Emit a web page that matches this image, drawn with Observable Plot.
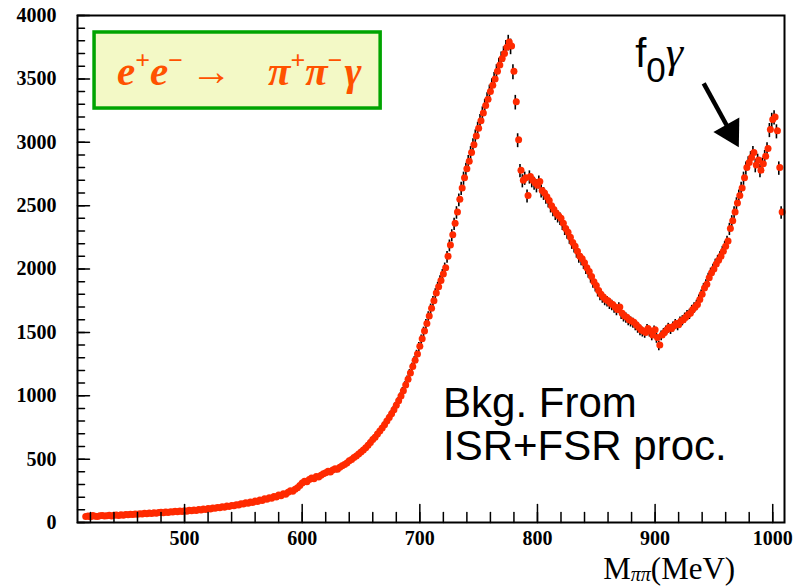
<!DOCTYPE html>
<html>
<head>
<meta charset="utf-8">
<script src="https://cdn.jsdelivr.net/npm/d3@7"></script>
<script src="https://cdn.jsdelivr.net/npm/@observablehq/plot@0.6"></script>
<style>
  html, body { margin: 0; padding: 0; background: #fff; }
  #chart svg { display: block; }
</style>
</head>
<body>
<div id="chart"></div>
<script>
// ---- data ----
const masses = d3.range(416, 1009, 2); // bin centres, MeV
const counts = [
  48, 52, 45, 55, 50, 47, 53, 56, 51, 54,
  57, 52, 58, 60, 55, 62, 58, 64, 61, 66,
  63, 68, 65, 70, 67, 72, 69, 74, 71, 76,
  73, 78, 80, 76, 82, 79, 85, 82, 88, 84,
  90, 87, 93, 89, 96, 92, 99, 95, 102, 98,
  106, 103, 110, 107, 115, 112, 119, 116, 124, 121,
  130, 126, 135, 132, 141, 138, 148, 145, 155, 151,
  162, 158, 170, 166, 178, 174, 187, 183, 196, 192,
  206, 201, 216, 212, 227, 222, 238, 250, 246, 262,
  275, 292, 312, 326, 322, 340, 352, 346, 362, 358,
  372, 385, 392, 404, 398, 415, 425, 420, 436, 448,
  458, 470, 488, 498, 512, 525, 540, 556, 572, 590,
  610, 632, 655, 672, 698, 722, 745, 772, 800, 828,
  858, 890, 925, 960, 998, 1040, 1085, 1130, 1180, 1230,
  1280, 1330, 1390, 1450, 1510, 1570, 1630, 1690, 1750, 1810,
  1860, 1910, 1960, 2010, 2100, 2190, 2270, 2360, 2450, 2550,
  2640, 2720, 2790, 2850, 2920, 2980, 3050, 3110, 3170, 3230,
  3290, 3340, 3400, 3450, 3500, 3560, 3610, 3660, 3700, 3750,
  3790, 3760, 3560, 3320, 3020, 2780, 2700, 2720, 2580, 2730,
  2700, 2680, 2660, 2690, 2620, 2600, 2570, 2540, 2500, 2470,
  2440, 2420, 2400, 2360, 2320, 2290, 2250, 2210, 2180, 2140,
  2100, 2080, 2050, 2010, 1980, 1940, 1900, 1870, 1830, 1800,
  1780, 1760, 1750, 1730, 1720, 1700, 1680, 1700, 1650, 1630,
  1620, 1600, 1590, 1580, 1560, 1540, 1520, 1510, 1500, 1530,
  1510, 1480, 1520, 1460, 1400, 1480, 1500, 1520, 1540, 1530,
  1550, 1570, 1560, 1590, 1600, 1620, 1640, 1650, 1680, 1700,
  1720, 1760, 1800, 1850, 1880, 1930, 1970, 2000, 2040, 2070,
  2100, 2140, 2180, 2220, 2320, 2380, 2450, 2520, 2580, 2640,
  2720, 2800, 2840, 2880, 2920, 2820, 2860, 2780, 2830, 2890,
  2950, 3100, 3180, 3200, 3090, 2800, 2450
];
const xTicks = [500, 600, 700, 800, 900, 1000];
const xMinor = d3.range(420, 1010, 20);
const yTicks = [0, 500, 1000, 1500, 2000, 2500, 3000, 3500, 4000];
const yMinor = d3.range(0, 4001, 100);
const xDomain = [409, 1010];
const yDomain = [0, 4000];

// annotations (data units)
const legendBox = [{x1: 423.5, x2: 666.7, y1: 3266, y2: 3866}];
const arrowShaft = [{x1: 941.3, y1: 3464, x2: 964.1, y2: 3079}];
const arrowHead = [{x: 964.1, y: 3079}];
const legendPos = {x: 443, y: 3448};
const f0Pos = {x: 883.5, y: 3590};
const bkgPos = {x: 720.2, y1: 828, y2: 489};
const titlePos = {x: 856.3, y: -449.7};

const data = masses.map((m, i) => ({m, c: counts[i]}));

const tickShape = {draw(ctx, l) { ctx.moveTo(0, 0); ctx.lineTo(0, -l); }};
const serif = "'Liberation Serif', 'Times New Roman', serif";
const sans = "'Liberation Sans', Arial, sans-serif";

const chart = Plot.plot({
  width: 794,
  height: 586,
  marginLeft: 77,
  marginRight: 10,
  marginTop: 15,
  marginBottom: 64,
  style: {background: "white", overflow: "visible"},
  x: {domain: xDomain},
  y: {domain: yDomain},
  marks: [
    Plot.rect(legendBox, {x1: "x1", x2: "x2", y1: "y1", y2: "y2", fill: "#f3f9c6", stroke: "#00a400", strokeWidth: 3.5}),
    Plot.ruleX(data, {x: "m", y1: d => d.c - Math.sqrt(d.c), y2: d => d.c + Math.sqrt(d.c), stroke: "black", strokeWidth: 1.6, dx: -1, dy: 1}),
    Plot.dot(data, {x: "m", y: "c", r: 3.5, fill: "#ff2a00", stroke: "none"}),
    Plot.link(arrowShaft, {x1: "x1", y1: "y1", x2: "x2", y2: "y2", stroke: "black", strokeWidth: 4.5}),
    Plot.dot(arrowHead, {x: "x", y: "y", symbol: "triangle", r: 11, rotate: 151, fill: "black"}),
    Plot.vector(xMinor, {x: d => d, y: yDomain[0], length: 10, rotate: 0, anchor: "start", shape: tickShape, stroke: "black", strokeWidth: 1.5}),
    Plot.vector(xTicks, {x: d => d, y: yDomain[0], length: 18, rotate: 0, anchor: "start", shape: tickShape, stroke: "black", strokeWidth: 1.5}),
    Plot.vector(yMinor, {x: xDomain[0], y: d => d, length: 7, rotate: 90, anchor: "start", shape: tickShape, stroke: "black", strokeWidth: 1.5}),
    Plot.vector(yTicks, {x: xDomain[0], y: d => d, length: 12, rotate: 90, anchor: "start", shape: tickShape, stroke: "black", strokeWidth: 1.5}),
    Plot.axisX({ticks: xTicks, tickSize: 0, tickPadding: 8, tickFormat: d => String(d), label: null,
      fontFamily: serif, fontWeight: "bold", fontSize: 20, fill: "black"}),
    Plot.axisY({ticks: yTicks, tickSize: 0, tickPadding: 21, tickFormat: d => String(d), label: null,
      fontFamily: serif, fontWeight: "bold", fontSize: 20, fill: "black"}),
    Plot.frame({stroke: "black", strokeWidth: 2})
  ]
});

document.getElementById("chart").appendChild(chart);

// rich-text annotations, positioned through the plot's scales
const sx = chart.scale("x"), sy = chart.scale("y");
const svg = d3.select(chart);
const layer = svg.append("g").attr("text-anchor", "start");

// legend: e+e- -> pi+pi-gamma
{
  const t = layer.append("text")
    .attr("x", sx.apply(legendPos.x)).attr("y", sy.apply(legendPos.y))
    .attr("font-family", serif).attr("font-weight", "bold").attr("font-style", "italic")
    .attr("font-size", 41).attr("fill", "#ff5200");
  t.append("tspan").text("e");
  t.append("tspan").attr("dy", -16).attr("font-size", 26).attr("font-style", "normal").text("+");
  t.append("tspan").attr("dy", 16).text("e");
  t.append("tspan").attr("dy", -16).attr("font-size", 26).attr("font-style", "normal").text("\u2212");
  t.append("tspan").attr("dy", 16).attr("dx", 8).attr("font-style", "normal").text("\u2192");
  t.append("tspan").attr("dx", 36).text("\u03c0");
  t.append("tspan").attr("dy", -16).attr("font-size", 26).attr("font-style", "normal").text("+");
  t.append("tspan").attr("dy", 16).text("\u03c0");
  t.append("tspan").attr("dy", -16).attr("font-size", 26).attr("font-style", "normal").text("\u2212");
  t.append("tspan").attr("dy", 16).attr("dx", 2).text("\u03b3");
}

// f0 gamma
{
  const t = layer.append("text")
    .attr("x", sx.apply(f0Pos.x)).attr("y", sy.apply(f0Pos.y))
    .attr("font-family", sans).attr("font-size", 40).attr("fill", "black");
  t.append("tspan").text("f");
  t.append("tspan").attr("dy", 15).attr("font-size", 35).text("0");
  t.append("tspan").attr("dy", -15).attr("font-family", serif).attr("font-style", "italic").attr("font-size", 44).text("\u03b3");
}

// Bkg. From / ISR+FSR proc.
layer.append("text").attr("x", sx.apply(bkgPos.x)).attr("y", sy.apply(bkgPos.y1))
  .attr("font-family", sans).attr("font-size", 42).attr("fill", "black").text("Bkg. From");
layer.append("text").attr("x", sx.apply(bkgPos.x)).attr("y", sy.apply(bkgPos.y2))
  .attr("font-family", sans).attr("font-size", 42).attr("fill", "black").text("ISR+FSR proc.");

// axis title M_pipi (MeV)
{
  const t = layer.append("text")
    .attr("x", sx.apply(titlePos.x)).attr("y", sy.apply(titlePos.y))
    .attr("font-family", serif).attr("font-size", 31).attr("fill", "black");
  t.append("tspan").text("M");
  t.append("tspan").attr("dy", 2).attr("font-size", 20).attr("font-style", "italic").text("\u03c0\u03c0");
  t.append("tspan").attr("dy", -2).text("(MeV)");
}
</script>
</body>
</html>
